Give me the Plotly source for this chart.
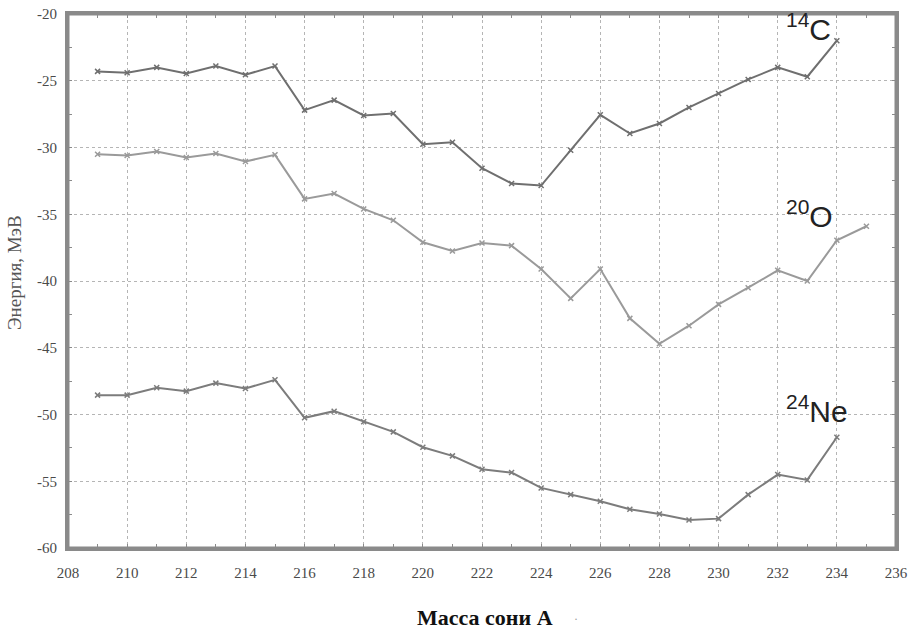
import plotly.graph_objects as go

mass_c = list(range(209, 235))
energy_c14 = [-24.3, -24.4, -24.0, -24.45, -23.9, -24.55, -23.9, -27.2, -26.45, -27.6,
              -27.45, -29.75, -29.6, -31.55, -32.7, -32.85, -30.2, -27.55, -28.95, -28.2,
              -27.0, -25.95, -24.9, -24.0, -24.7, -22.0]

mass_o = list(range(209, 236))
energy_o20 = [-30.5, -30.6, -30.3, -30.75, -30.45, -31.05, -30.55, -33.85, -33.45, -34.6,
              -35.45, -37.1, -37.75, -37.15, -37.35, -39.1, -41.3, -39.1, -42.8, -44.7,
              -43.35, -41.75, -40.5, -39.2, -40.0, -36.95, -35.9]

mass_ne = list(range(209, 235))
energy_ne24 = [-48.55, -48.55, -48.0, -48.25, -47.65, -48.05, -47.4, -50.25, -49.75, -50.55,
               -51.3, -52.45, -53.1, -54.1, -54.35, -55.5, -56.0, -56.5, -57.1, -57.45,
               -57.9, -57.8, -56.0, -54.5, -54.9, -51.7]

x_ticks = [208, 210, 212, 214, 216, 218, 220, 222, 224, 226, 228, 230, 232, 234, 236]
y_ticks = [-60, -55, -50, -45, -40, -35, -30, -25, -20]

labels = [("<sup>14</sup>C", 232.2, -21.0), ("<sup>20</sup>O", 232.2, -35.0), ("<sup>24</sup>Ne", 232.2, -49.6)]

fig = go.Figure()
series = [(mass_c, energy_c14, "#6f6f6f"), (mass_o, energy_o20, "#9a9a9a"), (mass_ne, energy_ne24, "#7c7c7c")]
for xs, ys, col in series:
    fig.add_trace(go.Scatter(
        x=xs, y=ys, mode="lines+markers",
        line=dict(color=col, width=2),
        marker=dict(symbol="x-thin", size=5, line=dict(color=col, width=1.5), color=col),
        showlegend=False, hoverinfo="skip"))

tickfont = dict(family="Liberation Serif", size=15, color="#4a4a4a")
axis_common = dict(
    showline=True, linewidth=3, linecolor="#8a8a8a", mirror="allticks",
    showgrid=True, gridcolor="#b5b5b5", gridwidth=1, griddash="dot",
    zeroline=False, ticks="outside", tickcolor="rgba(0,0,0,0)", tickwidth=1,
    tickfont=tickfont, automargin=False,
)
fig.update_xaxes(range=[208, 236], tickvals=x_ticks, ticktext=[str(v) for v in x_ticks],
                 ticklen=9,
                 minor=dict(dtick=1, tick0=208, ticks="inside", ticklen=4, tickcolor="#8a8a8a", showgrid=False),
                 **axis_common)
fig.update_yaxes(range=[-60, -20], tickvals=y_ticks, ticktext=[str(v) for v in y_ticks],
                 ticklen=5,
                 minor=dict(dtick=2.5, tick0=-60, ticks="inside", ticklen=4, tickcolor="#8a8a8a", showgrid=False),
                 **axis_common)

# plot frame
fig.add_shape(type="rect", xref="paper", yref="paper", x0=0, y0=0, x1=1, y1=1,
              line=dict(color="#8a8a8a", width=3), layer="above")

for txt, xv, yv in labels:
    fig.add_annotation(x=xv, y=yv, text=txt, showarrow=False, xanchor="left", yanchor="middle",
                       font=dict(family="Liberation Sans", size=30, color="#222222"))

fig.add_annotation(xref="paper", yref="paper", x=0.504, y=-0.131, text="<b>Масса сони А</b>",
                   showarrow=False, xanchor="center", yanchor="middle",
                   font=dict(family="Liberation Serif", size=22, color="#111111"))
fig.add_annotation(xref="paper", yref="paper", x=0.614, y=-0.133, text="·",
                   showarrow=False, xanchor="center", yanchor="middle",
                   font=dict(family="Liberation Serif", size=12, color="#999999"))
fig.add_annotation(xref="paper", yref="paper", x=-0.064, y=0.515, text="Энергия, МэВ", textangle=-90,
                   showarrow=False, xanchor="center", yanchor="middle",
                   font=dict(family="Liberation Serif", size=19, color="#555555"))

fig.update_layout(
    width=912, height=630,
    margin=dict(l=68, r=16, t=14, b=82),
    paper_bgcolor="white", plot_bgcolor="white",
)
fig.write_html(
    "out.html",
    post_script=(
        "document.body.style.margin='0';document.body.style.overflow='hidden';"
        "var s=document.createElement('style');"
        "s.innerHTML='.modebar-container{display:none !important;}';"
        "document.head.appendChild(s);"
    ),
)
